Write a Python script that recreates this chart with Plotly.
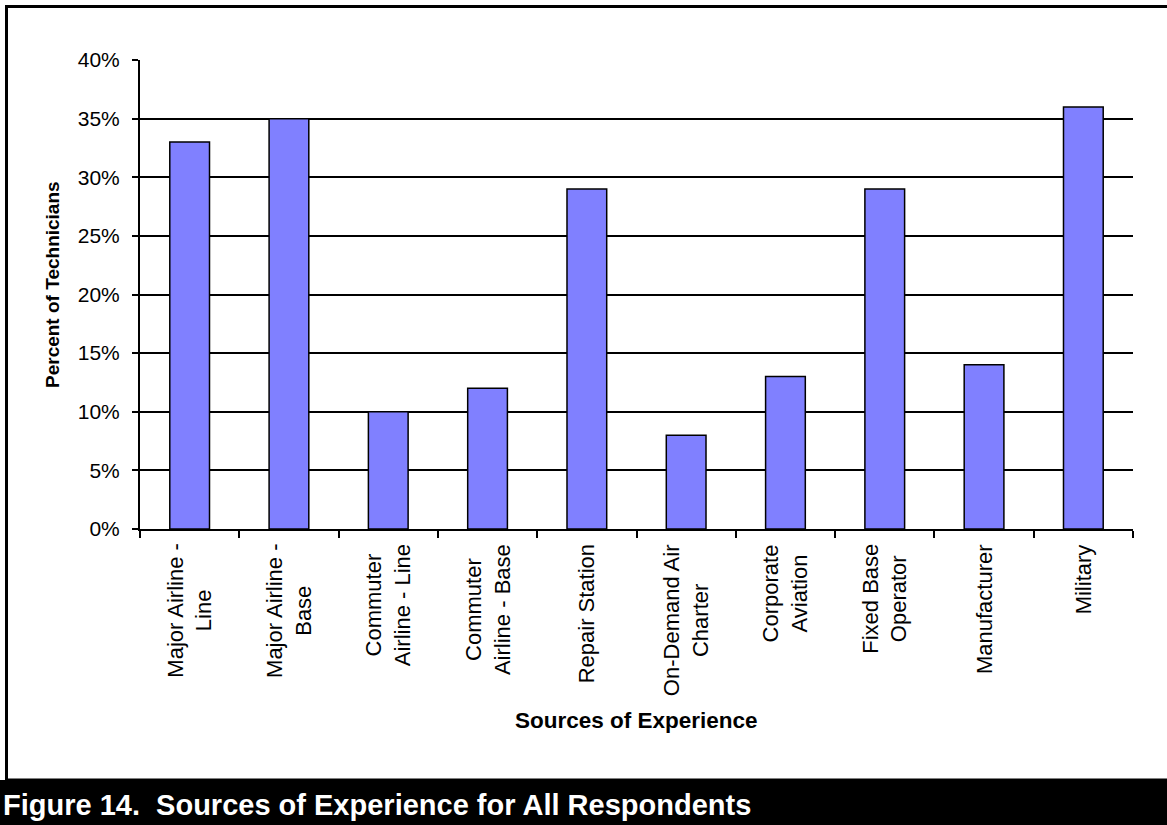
import plotly.graph_objects as go

# Survey results: share of technicians by source of experience
categories = [
    "Major Airline -<br>Line",
    "Major Airline -<br>Base",
    "Commuter<br>Airline - Line",
    "Commuter<br>Airline - Base",
    "Repair Station",
    "On-Demand Air<br>Charter",
    "Corporate<br>Aviation",
    "Fixed Base<br>Operator",
    "Manufacturer",
    "Military",
]
percent_of_technicians = [33, 35, 10, 12, 29, 8, 13, 29, 14, 36]
y_ticks = [0, 5, 10, 15, 20, 25, 30, 35, 40]

W, H = 1167, 825
L, R, T, B = 140, 1133, 60, 529
FONT = "Liberation Sans, Arial, sans-serif"


def px_x(x):
    return (x - L) / (R - L)


def px_y(y):
    return 1 - (y - T) / (B - T)


fig = go.Figure()
fig.add_trace(go.Bar(
    x=categories,
    y=percent_of_technicians,
    marker=dict(color="#8080FF", line=dict(color="black", width=1.5)),
    hoverinfo="x+y",
))

# category labels under the axis, rotated and centred per line
for cat in categories:
    fig.add_annotation(
        x=cat, xref="x", y=px_y(542), yref="paper",
        text=cat, textangle=-90, showarrow=False,
        xanchor="center", yanchor="top", align="center",
        font=dict(family=FONT, size=22, color="black"),
    )

# axis titles
fig.add_annotation(
    x=px_x(52), y=px_y(285), xref="paper", yref="paper",
    text="<b>Percent of Technicians</b>", textangle=-90, showarrow=False,
    xanchor="center", yanchor="middle",
    font=dict(family=FONT, size=19, color="black"),
)
fig.add_annotation(
    x=px_x(636), y=px_y(720), xref="paper", yref="paper",
    text="<b>Sources of Experience</b>", showarrow=False,
    xanchor="center", yanchor="middle",
    font=dict(family=FONT, size=22.5, color="black"),
)

# outer frame and caption band
fig.add_shape(type="rect", xref="paper", yref="paper",
              x0=px_x(6.5), x1=px_x(1175), y0=px_y(780), y1=px_y(6.5),
              line=dict(color="black", width=3), fillcolor="rgba(0,0,0,0)",
              layer="below")
fig.add_shape(type="rect", xref="paper", yref="paper",
              x0=px_x(-5), x1=px_x(1175), y0=px_y(830), y1=px_y(780),
              line=dict(width=0), fillcolor="black", layer="above")
fig.add_annotation(
    x=px_x(1), y=px_y(805), xref="paper", yref="paper",
    text="<b>Figure 14.&nbsp; Sources of Experience for All Respondents</b>",
    showarrow=False, xanchor="left", yanchor="middle",
    font=dict(family=FONT, size=29, color="white"),
)

fig.update_layout(
    width=W, height=H,
    margin=dict(l=L, r=W - R, t=T, b=H - B, pad=0),
    paper_bgcolor="white", plot_bgcolor="white",
    bargap=0.6, showlegend=False,
    font=dict(family=FONT, color="black"),
)
fig.update_xaxes(
    type="category", tickson="boundaries",
    showticklabels=False, ticks="outside", ticklen=7, tickwidth=2, tickcolor="black",
    showline=True, linecolor="black", linewidth=2,
    showgrid=False, zeroline=False,
)
fig.update_yaxes(
    range=[0, 40], tickvals=y_ticks, ticktext=[f"{v}%" for v in y_ticks],
    ticks="outside", ticklen=6, tickwidth=2, tickcolor="black",
    ticklabelstandoff=8,
    tickfont=dict(family=FONT, size=21, color="black"),
    showline=True, linecolor="black", linewidth=2,
    showgrid=True, gridcolor="black", gridwidth=2, zeroline=False,
)

fig.write_html("out.html")
